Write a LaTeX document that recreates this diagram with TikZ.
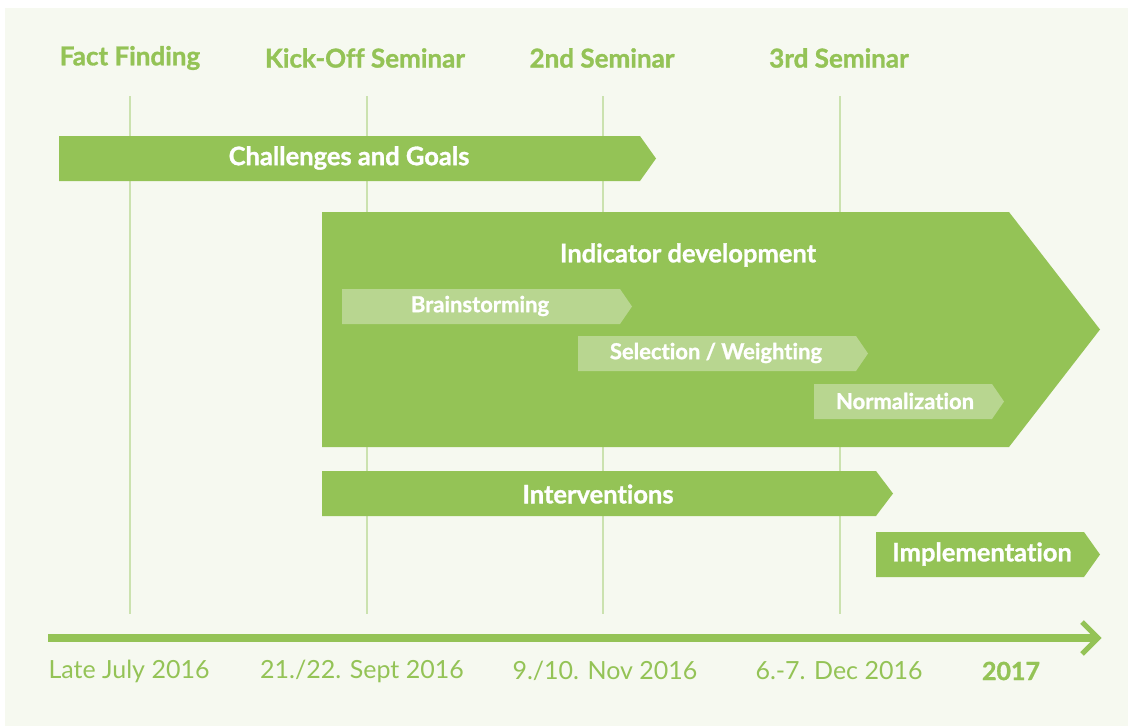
\documentclass[tikz,border=0pt]{standalone}
\usepackage{fontspec}
\setmainfont{Lato}[RawFeature=-liga, BoldFeatures={FakeBold=1.2}]
\definecolor{gmain}{RGB}{148,195,86}
\definecolor{glight}{RGB}{184,214,144}
\definecolor{gline}{RGB}{203,226,175}
\definecolor{bgc}{RGB}{246,249,240}
\tikzset{
  bar/.style={fill=gmain, draw=none},
  subbar/.style={fill=glight, draw=none},
  vline/.style={draw=gline, line width=2pt},
  head/.style={text=gmain, font=\fontsize{26}{30}\selectfont\bfseries, inner sep=0pt},
  date/.style={text=gmain, font=\fontsize{25}{29}\selectfont, inner sep=0pt},
  barlabel/.style={text=white, font=\fontsize{25.5}{29}\selectfont\bfseries, inner sep=0pt},
  sublabel/.style={text=white, font=\fontsize{22}{25}\selectfont\bfseries, inner sep=0pt},
}
\begin{document}
\begin{tikzpicture}[x=1pt,y=-1pt]
\useasboundingbox (0,0) rectangle (1133,726);
\fill[white] (0,0) rectangle (1133,726);
\fill[bgc] (5,8) rectangle (1128,726);
% vertical lines
\foreach \x/\n in {130/a,367/b,603/c,840/d}{
  \coordinate (top\n) at (\x,96);
  \coordinate (bot\n) at (\x,614);
  \draw[vline] (top\n) -- (bot\n);
}
% headings
\node[head] (h1) at (130,58) {Fact Finding};
\node[head] (h2) at (365,58) {Kick-Off Seminar};
\node[head] (h3) at (602,58) {2nd Seminar};
\node[head] (h4) at (839,58) {3rd Seminar};
% Challenges and Goals
\fill[bar] (59,136) -- (640,136) -- (656,158.5) -- (640,181) -- (59,181) -- cycle;
\node[barlabel] (cg) at (349,158) {Challenges and Goals};
% Indicator development
\fill[bar] (322,212) -- (1009,212) -- (1100,329.5) -- (1009,447) -- (322,447) -- cycle;
\node[barlabel] (id) at (688,255) {Indicator development};
% sub bars
\fill[subbar] (342,289) -- (620,289) -- (632,306.5) -- (620,324) -- (342,324) -- cycle;
\node[sublabel] (bs) at (480,306) {Brainstorming};
\fill[subbar] (578,336) -- (856,336) -- (868,353.5) -- (856,371) -- (578,371) -- cycle;
\node[sublabel] (sw) at (716,353) {Selection / Weighting};
\fill[subbar] (814,384) -- (992,384) -- (1004,401.5) -- (992,419) -- (814,419) -- cycle;
\node[sublabel] (nz) at (905,401) {Normalization};
% Interventions
\fill[bar] (322,471) -- (876,471) -- (893,493.5) -- (876,516) -- (322,516) -- cycle;
\node[barlabel] (iv) at (598,494) {Interventions};
% Implementation
\fill[bar] (876,532) -- (1084,532) -- (1100,554.5) -- (1084,577) -- (876,577) -- cycle;
\node[barlabel] (im) at (982,554) {Implementation};
% timeline
\coordinate (tl0) at (48,638);
\coordinate (tl1) at (1095,638);
\draw[gmain, line width=8pt] (tl0) -- (tl1);
\coordinate (ch1) at (1082,622);
\coordinate (ch2) at (1098,638);
\coordinate (ch3) at (1082,654);
\draw[gmain, line width=5pt, miter limit=10] (ch1) -- (ch2) -- (ch3);
% dates
\node[date] (d1) at (129,671) {Late July 2016};
\node[date] (d2) at (362,671) {21./22. Sept 2016};
\node[date] (d3) at (605,671) {9./10. Nov 2016};
\node[date] (d4) at (839,671) {6.-7. Dec 2016};
\node[date, font=\fontsize{25}{29}\selectfont\bfseries] (d5) at (1011,671) {2017};
\end{tikzpicture}
\end{document}
